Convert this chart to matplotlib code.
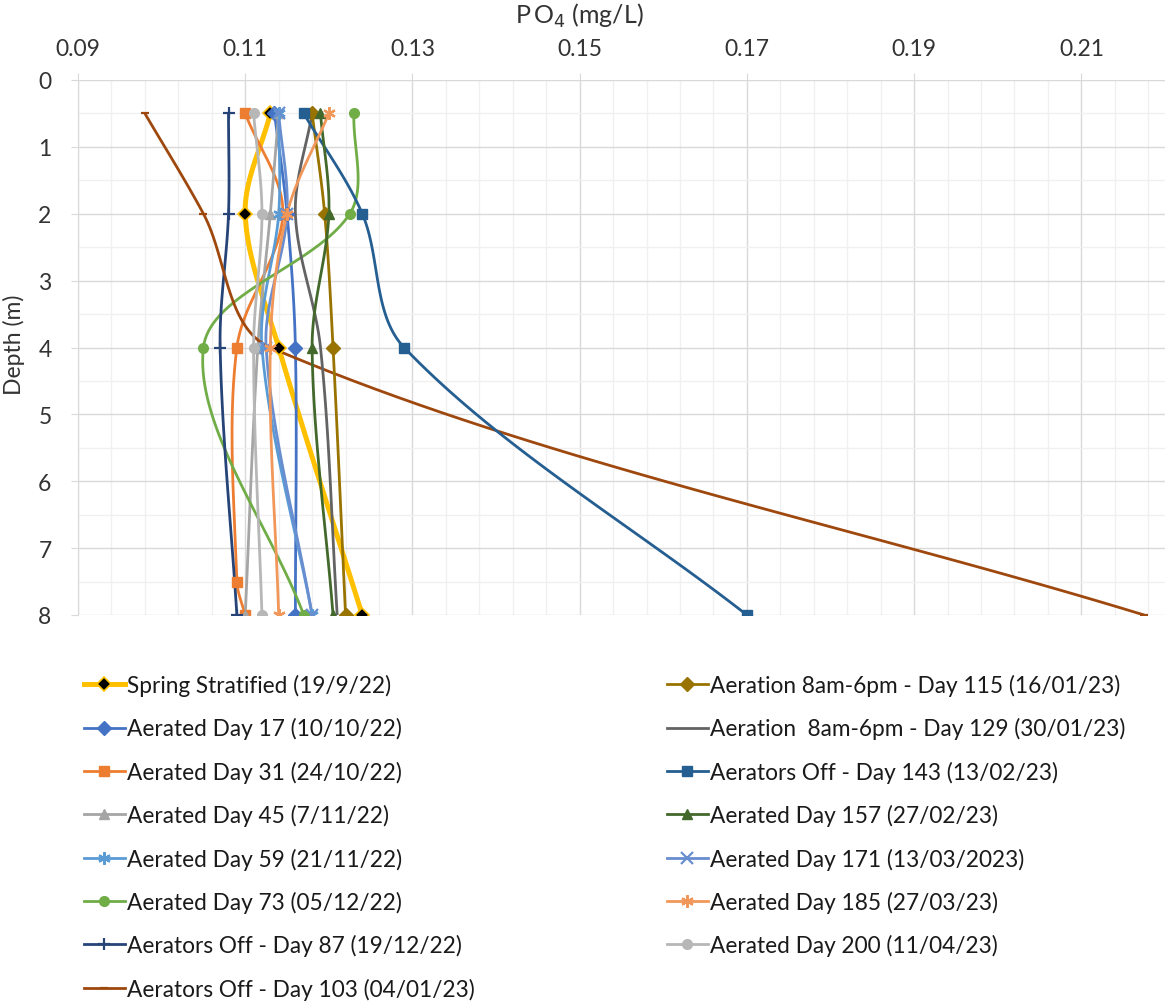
import numpy as np
import matplotlib
matplotlib.use("Agg")
import matplotlib.pyplot as plt
from matplotlib.lines import Line2D

plt.rcParams['font.family'] = ['Lato', 'DejaVu Sans']

# ---- data: PO4 (mg/L) profiles by depth (m) ----
labels = [
    "Spring Stratified (19/9/22)",
    "Aerated Day 17 (10/10/22)",
    "Aerated Day 31 (24/10/22)",
    "Aerated Day 45 (7/11/22)",
    "Aerated Day 59 (21/11/22)",
    "Aerated Day 73 (05/12/22)",
    "Aerators Off - Day 87 (19/12/22)",
    "Aerators Off - Day 103 (04/01/23)",
    "Aeration 8am-6pm - Day 115 (16/01/23)",
    "Aeration  8am-6pm - Day 129 (30/01/23)",
    "Aerators Off - Day 143 (13/02/23)",
    "Aerated Day 157 (27/02/23)",
    "Aerated Day 171 (13/03/2023)",
    "Aerated Day 185 (27/03/23)",
    "Aerated Day 200 (11/04/23)",
]

depth_std = [0.5, 2, 4, 8]
depth_day31 = [0.5, 2, 4, 7.5, 8]

po4_spring = [0.113, 0.110, 0.114, 0.124]
po4_day17 = [0.1135, 0.115, 0.116, 0.116]
po4_day31 = [0.110, 0.1145, 0.109, 0.109, 0.110]
po4_day45 = [0.114, 0.113, 0.1115, 0.110]
po4_day59 = [0.114, 0.114, 0.112, 0.118]
po4_day73 = [0.123, 0.1225, 0.105, 0.117]
po4_day87 = [0.108, 0.108, 0.107, 0.109]
po4_day103 = [0.098, 0.105, 0.113, 0.2175]
po4_day115 = [0.118, 0.1195, 0.1205, 0.122]
po4_day129 = [0.118, 0.116, 0.119, 0.121]
po4_day143 = [0.117, 0.124, 0.129, 0.170]
po4_day157 = [0.119, 0.120, 0.118, 0.1205]
po4_day171 = [0.114, 0.115, 0.1125, 0.118]
po4_day185 = [0.120, 0.115, 0.113, 0.114]
po4_day200 = [0.111, 0.112, 0.111, 0.112]

values = [po4_spring, po4_day17, po4_day31, po4_day45, po4_day59, po4_day73,
          po4_day87, po4_day103, po4_day115, po4_day129, po4_day143,
          po4_day157, po4_day171, po4_day185, po4_day200]
depths = [depth_std, depth_std, depth_day31] + [depth_std] * 12

colors = ["#FFC000", "#4472C4", "#ED7D31", "#A5A5A5", "#5B9BD5", "#70AD47",
          "#264478", "#9E480E", "#997300", "#636363", "#255E91", "#43682B",
          "#698ED0", "#F1975A", "#B7B7B7"]
markers = ["D", "D", "s", "^", (6, 2, 0), "o", "+", "_", "D", None, "s", "^",
           "x", (6, 2, 0), "o"]

XMIN, XMAX = 0.09, 0.22
YMIN, YMAX = 0, 8

fig = plt.figure(figsize=(11.65, 10.03), dpi=100)
W, H = 1165, 1003
ax = fig.add_axes([78 / W, 1 - 616 / H, (1165 - 78) / W, (616 - 81) / H])
ax.set_xlim(XMIN, XMAX)
ax.set_ylim(YMAX, YMIN)


def smooth_path(xs, ys, n=40):
    """Excel-style smoothed line: cubic Bezier segments with tangents
    scaled by neighbouring segment lengths, computed in screen space."""
    px = (np.asarray(xs) - XMIN) / (XMAX - XMIN) * (1165 - 78)
    py = (np.asarray(ys) - YMIN) / (YMAX - YMIN) * (616 - 81)
    P = np.column_stack([px, py])
    m = len(P)
    out = [P[0]]
    for i in range(m - 1):
        p0 = P[i - 1] if i > 0 else P[i]
        p1, p2 = P[i], P[i + 1]
        p3 = P[i + 2] if i + 2 < m else P[i + 1]
        d01 = np.linalg.norm(p1 - p0)
        d12 = np.linalg.norm(p2 - p1)
        d23 = np.linalg.norm(p3 - p2)
        f1 = d12 / (d01 + d12) / 1.5 if d01 + d12 > 0 else 0
        f2 = d12 / (d12 + d23) / 1.5 if d12 + d23 > 0 else 0
        c1 = p1 + (p2 - p0) * f1 * 0.5
        c2 = p2 - (p3 - p1) * f2 * 0.5
        t = np.linspace(0, 1, n)[1:, None]
        seg = ((1 - t) ** 3) * p1 + 3 * ((1 - t) ** 2) * t * c1 \
            + 3 * (1 - t) * t ** 2 * c2 + t ** 3 * p2
        out.extend(seg)
    out = np.array(out)
    sx = XMIN + out[:, 0] / (1165 - 78) * (XMAX - XMIN)
    sy = YMIN + out[:, 1] / (616 - 81) * (YMAX - YMIN)
    return sx, sy


handles = []
for i, (lab, v, d, c, mk) in enumerate(zip(labels, values, depths, colors, markers)):
    lw = 3.6 if i == 0 else 2.0
    sx, sy = smooth_path(v, d)
    ax.plot(sx, sy, color=c, lw=lw, zorder=3 + i * 0.01, solid_capstyle='round')
    if i == 0:
        mkw = dict(marker="D", ms=7.5, mfc="black", mec=c, mew=1.2)
    elif mk is None:
        mkw = dict(marker=None)
    elif mk in ("+", "x", "_") or isinstance(mk, tuple):
        mkw = dict(marker=mk, ms=9 if mk != "_" else 6, mec=c, mew=1.6)
    else:
        mkw = dict(marker=mk, ms=7, mfc=c, mec=c)
    if mkw.get("marker") is not None:
        ax.plot(v, d, ls="none", zorder=4 + i * 0.01, **mkw)
    handles.append(Line2D([0], [0], color=c, lw=lw, **mkw))

# grid & axes styling
ax.set_xticks(np.arange(0.09, 0.2101, 0.02))
ax.set_xticks(np.arange(0.09, 0.2201, 0.004), minor=True)
ax.set_yticks(np.arange(0, 9, 1))
ax.set_yticks(np.arange(0, 8.01, 0.5), minor=True)
ax.xaxis.set_major_formatter(matplotlib.ticker.FuncFormatter(lambda x, p: f"{x:.2f}"))
ax.xaxis.tick_top()
ax.grid(which="major", color="#D9D9D9", lw=1.0, zorder=0)
ax.grid(which="minor", color="#F0F0F0", lw=1.0, zorder=0)
ax.set_axisbelow(True)
for s in ["right", "bottom", "top"]:
    ax.spines[s].set_visible(False)
ax.spines["left"].set_color("#D9D9D9")
ax.tick_params(axis="x", which="major", length=5, color="#D9D9D9",
               labelsize=16.5, labelcolor="#333333", pad=10)
ax.tick_params(axis="y", which="major", length=5, color="#D9D9D9",
               labelsize=16.5, labelcolor="#333333", pad=14)
ax.tick_params(which="minor", length=0)

fig.text(579 / W, 1 - 16 / H, "P\u2009O$_4$ (mg/L)", ha="center", va="center",
         fontsize=18, color="#333333")
fig.text(14 / W, 1 - 345 / H, "Depth (m)", ha="center", va="center",
         rotation=90, fontsize=16.5, color="#333333")

leg_kw = dict(frameon=False, fontsize=16.3, handlelength=1.8, handletextpad=0.12,
              labelspacing=0.94, borderpad=0, borderaxespad=0, labelcolor="#1a1a1a")
leg1 = fig.legend(handles[:8], labels[:8], loc="upper left",
                  bbox_to_anchor=(84 / W, 1 - 675 / H), **leg_kw)
leg2 = fig.legend(handles[8:], labels[8:], loc="upper left",
                  bbox_to_anchor=(667 / W, 1 - 675 / H), **leg_kw)

fig.savefig("out.png", dpi=100)
